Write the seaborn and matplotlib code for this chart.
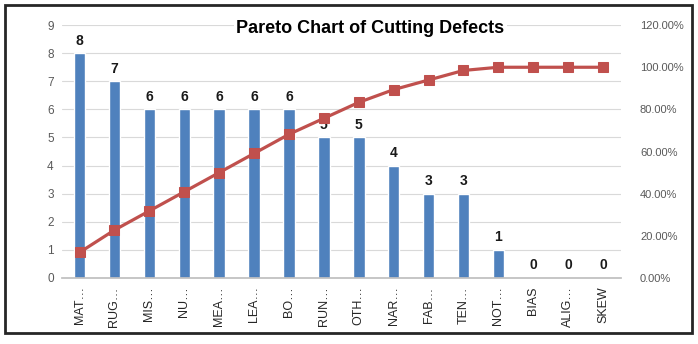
import matplotlib
matplotlib.use("Agg")
import matplotlib.pyplot as plt
import seaborn as sns
import pandas as pd
from matplotlib.patches import Rectangle

categories = ["MAT…", "RUG…", "MIS…", "NU…", "MEA…", "LEA…", "BO…", "RUN…",
              "OTH…", "NAR…", "FAB…", "TEN…", "NOT…", "BIAS", "ALIG…", "SKEW"]
counts = [8, 7, 6, 6, 6, 6, 6, 5, 5, 4, 3, 3, 1, 0, 0, 0]
cum_pct = [12.12, 22.73, 31.82, 40.91, 50.00, 59.09, 68.18, 75.76,
           83.33, 89.39, 93.94, 98.48, 100.0, 100.0, 100.0, 100.0]
left_ticks = list(range(0, 10))
right_ticks = [0, 20, 40, 60, 80, 100, 120]

sns.set_theme(style="white")
plt.rcParams['font.family'] = ['Liberation Sans', 'DejaVu Sans']

fig = plt.figure(figsize=(6.98, 3.44), dpi=100)
ax = fig.add_axes([0.089, 0.192, 0.80, 0.735])

df = pd.DataFrame({"cat": categories, "count": counts})
sns.barplot(data=df, x="cat", y="count", color="#4F81BD", width=0.33,
            saturation=1, ax=ax, zorder=2)

ax.set_ylim(0, 9)
ax.set_xlim(-0.5, len(categories) - 0.5)
ax.set_yticks(left_ticks)
ax.set_yticklabels([str(t) for t in left_ticks], color="#595959", fontsize=8.5)
ax.set_xticks(range(len(categories)))
ax.set_xticklabels(categories, rotation=90, color="#262626", fontsize=9)
ax.set_xlabel("")
ax.set_ylabel("")
ax.tick_params(axis="both", length=0, pad=6)
for y in left_ticks[1:]:
    ax.axhline(y, color="#D9D9D9", lw=0.8, zorder=0)
for s in ["top", "right", "left"]:
    ax.spines[s].set_visible(False)
ax.spines["bottom"].set_color("#BFBFBF")

for i, v in enumerate(counts):
    ax.text(i, v + 0.2, str(v), ha="center", va="bottom", fontsize=10,
            fontweight="bold", color="#1a1a1a")

ax2 = ax.twinx()
sns.lineplot(x=list(range(len(categories))), y=cum_pct, ax=ax2, color="#C0504D",
             lw=2.3, marker="s", markersize=6.5, markeredgecolor="#C0504D", zorder=3)
ax2.set_ylim(0, 120)
ax2.set_yticks(right_ticks)
ax2.set_yticklabels([f"{t:.2f}%" for t in right_ticks], color="#595959", fontsize=8)
ax2.tick_params(axis="y", length=0, pad=14)
for s in ["top", "right", "left", "bottom"]:
    ax2.spines[s].set_visible(False)
ax2.set_xlim(-0.5, len(categories) - 0.5)

ax2.text(0.552, 0.985, "Pareto Chart of Cutting Defects", transform=ax.transAxes,
         ha="center", va="center", fontsize=13, fontweight="bold", color="black",
         bbox=dict(facecolor="white", edgecolor="none", pad=2), zorder=5)

fig.patches.append(Rectangle((5 / 698, 1 - 333 / 344), 687 / 698, 328 / 344,
                             transform=fig.transFigure, fill=False,
                             edgecolor="#262626", lw=2.0))

fig.savefig("out.png", dpi=100)
